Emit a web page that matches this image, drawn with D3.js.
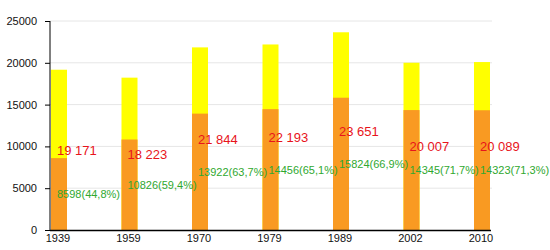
<!DOCTYPE html>
<html>
<head>
  <meta charset="utf-8">
  <style>
    body { margin: 0; background: #fff; }
    text { font-family: "Liberation Sans", Arial, sans-serif; }
  </style>
</head>
<body>
  <svg width="550" height="250"></svg>
  <script src="https://d3js.org/d3.v7.min.js"></script>
  <script>

  // data
  var years = ["1939", "1959", "1970", "1979", "1989", "2002", "2010"];
  var totals = [19171, 18223, 21844, 22193, 23651, 20007, 20089];
  var totalLabels = ["19 171", "18 223", "21 844", "22 193", "23 651", "20 007", "20 089"];
  var parts = [8598, 10826, 13922, 14456, 15824, 14345, 14323];
  var partLabels = ["8598(44,8%)", "10826(59,4%)", "13922(63,7%)", "14456(65,1%)",
                    "15824(66,9%)", "14345(71,7%)", "14323(71,3%)"];
  var yTicks = [0, 5000, 10000, 15000, 20000, 25000];

  var svg = d3.select("svg");
  var plotLeft = 50, plotRight = 492, plotTop = 21, plotBottom = 230;
  var barW = 16;

  var x = d3.scalePoint().domain(years).range([59, 482]);
  var y = d3.scaleLinear().domain([0, 25000]).range([plotBottom, plotTop]);

  // grid
  svg.selectAll(".grid")
    .data(yTicks.slice(1))
    .enter().append("line")
    .attr("x1", plotLeft).attr("x2", plotRight)
    .attr("y1", function(d) { return y(d); })
    .attr("y2", function(d) { return y(d); })
    .attr("stroke", "#e6e6e6")
    .attr("stroke-width", 1);

  // bars: total (yellow) then part (orange)
  var bars = svg.append("g");
  bars.selectAll(".total")
    .data(years)
    .enter().append("rect")
    .attr("x", function(d) { return x(d) - barW / 2; })
    .attr("y", function(d, i) { return y(totals[i]); })
    .attr("width", barW)
    .attr("height", function(d, i) { return plotBottom - y(totals[i]); })
    .attr("fill", "#ffff00");

  bars.selectAll(".part")
    .data(years)
    .enter().append("rect")
    .attr("x", function(d) { return x(d) - barW / 2; })
    .attr("y", function(d, i) { return y(parts[i]); })
    .attr("width", barW)
    .attr("height", function(d, i) { return plotBottom - y(parts[i]); })
    .attr("fill", "#f99a22");

  // labels on top of all bars
  var labels = svg.append("g");
  labels.selectAll(".tl")
    .data(years)
    .enter().append("text")
    .attr("x", function(d) { return x(d) - 2; })
    .attr("y", function(d, i) { return y(totals[i] / 2) + 5; })
    .attr("font-size", "13px")
    .attr("fill", "#e8141b")
    .text(function(d, i) { return totalLabels[i]; });

  labels.selectAll(".pl")
    .data(years)
    .enter().append("text")
    .attr("x", function(d) { return x(d) - 2; })
    .attr("y", function(d, i) { return y(parts[i] / 2) + 4; })
    .attr("font-size", "11px")
    .attr("fill", "#2fa82f")
    .text(function(d, i) { return partLabels[i]; });

  // axes
  var yAxis = svg.append("g")
    .attr("transform", "translate(" + plotLeft + ",0)")
    .call(d3.axisLeft(y).tickValues(yTicks).tickSize(5).tickPadding(8).tickFormat(d3.format("d")));
  yAxis.select(".domain").attr("d", "M0," + plotTop + "V" + plotBottom);
  yAxis.selectAll("text").attr("font-size", "11px").attr("fill", "#111")
    .style("font-family", "'Liberation Sans', Arial, sans-serif");

  svg.append("line")
    .attr("x1", plotLeft).attr("x2", plotRight - 1)
    .attr("y1", plotBottom + 0.5).attr("y2", plotBottom + 0.5)
    .attr("stroke", "#000").attr("stroke-width", 1.5);

  svg.selectAll(".xlab")
    .data(years)
    .enter().append("text")
    .attr("x", function(d) { return x(d) - 1; })
    .attr("y", 242)
    .attr("text-anchor", "middle")
    .attr("font-size", "11px")
    .attr("fill", "#111")
    .text(function(d) { return d; });
  </script>
</body>
</html>
